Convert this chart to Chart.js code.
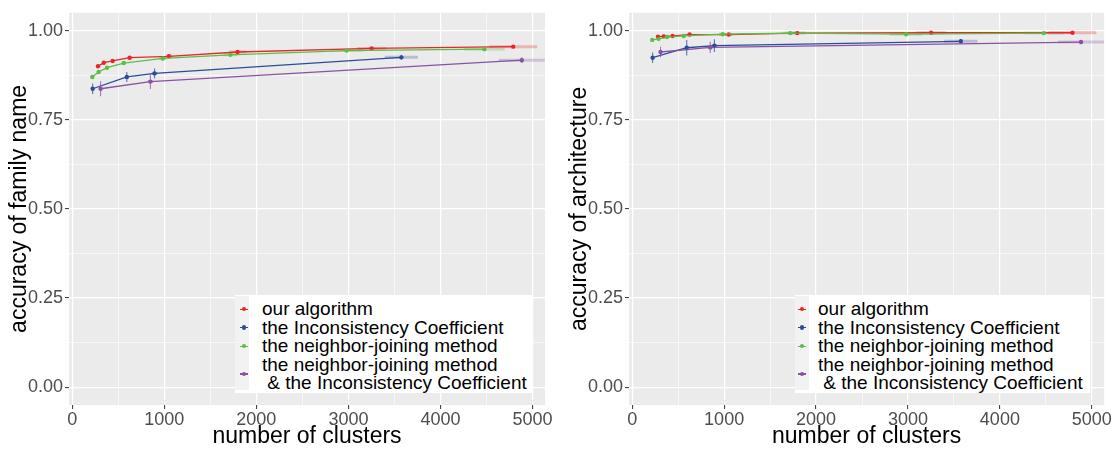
<!DOCTYPE html>
<html>
<head>
<meta charset="utf-8">
<script src="https://cdn.jsdelivr.net/npm/chart.js@4.4.1/dist/chart.umd.min.js"></script>
<style>
  body { margin: 0; background: #fff; font-family: 'Liberation Sans', Arial, sans-serif; }
  #wrap { position: relative; width: 1112px; height: 450px; overflow: hidden; }
  canvas { position: absolute; top: 0; }
  .legend { position: absolute; top: 295px; height: 98px; background: #fff; box-sizing: border-box; padding-top: 5px; }
  .keys { position: absolute; left: 0; top: 1px; bottom: 3px; width: 14px; background: #F2F2F2; }
  .entry { position: relative; display: flex; align-items: center; }
  .glyph { position: absolute; width: 8px; height: 1.4px; }
  .glyph i { position: absolute; left: 2px; top: -1.6px; width: 4.4px; height: 4.4px; border-radius: 50%; }
  .txt { position: absolute; font-size: 19px; line-height: 18.5px; color: #000; white-space: pre; }
</style>
</head>
<body>
<div id="wrap">
  <canvas id="left" width="556" height="450" style="left:0px"></canvas>
  <canvas id="right" width="556" height="450" style="left:556px"></canvas>
</div>
<script>
// legend / series
const seriesNames = ['our algorithm', 'the Inconsistency Coefficient', 'the neighbor-joining method',
  'the neighbor-joining method\n & the Inconsistency Coefficient'];
const seriesColors = ['#E8262B', '#2B4C9B', '#5BBF45', '#8A52A5'];

// number of clusters
const redX = [280, 343, 439, 624, 1050, 1796, 3252, 4790];
const blueX = [222, 593, 894, 3575];
const greenX = [218, 287, 378, 560, 984, 1718, 2980, 4477];
const purpleX = [308, 849, 4883];

// horizontal spread of cluster counts
const redXErr = [6, 8, 10, 20, 40, 90, 160, 260];
const blueXErr = [6, 20, 30, 180];
const greenXErr = [6, 8, 10, 20, 40, 80, 180, 220];
const purpleXErr = [8, 30, 250];

// accuracy of family name
const redFamily = [0.900, 0.910, 0.915, 0.924, 0.928, 0.940, 0.950, 0.955];
const blueFamily = [0.837, 0.870, 0.880, 0.925];
const greenFamily = [0.870, 0.884, 0.896, 0.909, 0.922, 0.932, 0.944, 0.948];
const purpleFamily = [0.837, 0.857, 0.917];
const redFamilyErr = [0.004, 0.004, 0.004, 0.004, 0.004, 0.003, 0.003, 0.003];
const blueFamilyErr = [0.015, 0.014, 0.014, 0.007];
const greenFamilyErr = [0.004, 0.004, 0.004, 0.004, 0.003, 0.003, 0.003, 0.003];
const purpleFamilyErr = [0.021, 0.021, 0.008];

// accuracy of architecture
const redArch = [0.983, 0.984, 0.985, 0.989, 0.989, 0.993, 0.994, 0.994];
const blueArch = [0.924, 0.952, 0.958, 0.970];
const greenArch = [0.974, 0.977, 0.982, 0.985, 0.990, 0.993, 0.990, 0.993];
const purpleArch = [0.940, 0.953, 0.968];
const redArchErr = [0.003, 0.003, 0.003, 0.003, 0.003, 0.003, 0.003, 0.003];
const blueArchErr = [0.015, 0.022, 0.018, 0.006];
const greenArchErr = [0.003, 0.003, 0.003, 0.003, 0.003, 0.003, 0.003, 0.003];
const purpleArchErr = [0.015, 0.016, 0.006];

// ticks
const xTicks = [0, 500, 1000, 1500, 2000, 2500, 3000, 3500, 4000, 4500, 5000];
const yTicks = [0, 0.125, 0.25, 0.375, 0.5, 0.625, 0.75, 0.875, 1];

const FONT = "'Liberation Sans', Arial, sans-serif";

function alpha(hex, a) {
  const n = parseInt(hex.slice(1), 16);
  return `rgba(${n >> 16},${(n >> 8) & 255},${n & 255},${a})`;
}

const isMajorX = v => v % 1000 === 0;
const isMajorY = v => Math.abs(v * 4 - Math.round(v * 4)) < 1e-9;

const panelBg = {
  id: 'panelBg',
  beforeDraw(chart) {
    const a = chart.chartArea;
    chart.ctx.save();
    chart.ctx.fillStyle = '#EBEBEB';
    chart.ctx.fillRect(a.left, a.top, a.right - a.left, a.bottom - a.top);
    chart.ctx.restore();
  }
};

const errorBars = {
  id: 'errorBars',
  beforeDatasetsDraw(chart) {
    // translucent horizontal spread bars
    const ctx = chart.ctx, a = chart.chartArea;
    const xs = chart.scales.x, ys = chart.scales.y;
    ctx.save();
    ctx.beginPath();
    ctx.rect(a.left, a.top, a.right - a.left, a.bottom - a.top);
    ctx.clip();
    chart.data.datasets.forEach(ds => {
      ctx.strokeStyle = alpha(ds.borderColor, 0.28);
      ctx.lineWidth = 3;
      ds.data.forEach((p, i) => {
        const y = ys.getPixelForValue(p.y);
        ctx.beginPath();
        ctx.moveTo(xs.getPixelForValue(p.x - ds.xErr[i]), y);
        ctx.lineTo(xs.getPixelForValue(p.x + ds.xErr[i]), y);
        ctx.stroke();
      });
    });
    ctx.restore();
  },
  afterDatasetsDraw(chart) {
    const ctx = chart.ctx;
    const xs = chart.scales.x, ys = chart.scales.y;
    ctx.save();
    chart.data.datasets.forEach(ds => {
      ctx.strokeStyle = alpha(ds.borderColor, 0.75);
      ctx.lineWidth = 1.1;
      ds.data.forEach((p, i) => {
        const x = xs.getPixelForValue(p.x);
        ctx.beginPath();
        ctx.moveTo(x, ys.getPixelForValue(p.y - ds.yErr[i]));
        ctx.lineTo(x, ys.getPixelForValue(p.y + ds.yErr[i]));
        ctx.stroke();
      });
    });
    ctx.restore();
  }
};

function makeDataset(i, xs, ys, xErr, yErr) {
  return {
    label: seriesNames[i],
    data: xs.map((x, k) => ({ x: x, y: ys[k] })),
    xErr: xErr,
    yErr: yErr,
    showLine: true,
    borderColor: seriesColors[i],
    backgroundColor: seriesColors[i],
    borderWidth: 1.3,
    pointRadius: 2.2,
    pointBorderWidth: 0,
    tension: 0,
    order: 4 - i
  };
}

function makeChart(id, yTitle, yWidth, padRight, series) {
  return new Chart(document.getElementById(id), {
    type: 'scatter',
    data: { datasets: series },
    plugins: [panelBg, errorBars],
    options: {
      responsive: false,
      animation: false,
      layout: { padding: { top: 9, right: padRight, left: 0, bottom: 0 } },
      plugins: { legend: { display: false }, tooltip: { enabled: false } },
      scales: {
        x: {
          type: 'linear',
          min: -35,
          max: 5135,
          afterBuildTicks: s => { s.ticks = xTicks.map(v => ({ value: v })); },
          afterFit: s => { s.height = 45; },
          ticks: {
            autoSkip: false,
            maxRotation: 0,
            padding: 0,
            color: '#4D4D4D',
            font: { family: FONT, size: 18 },
            callback: v => isMajorX(v) ? String(v) : ''
          },
          grid: {
            color: '#FFFFFF',
            lineWidth: c => (c.tick && isMajorX(c.tick.value)) ? 1.2 : 0.6,
            tickColor: c => (c.tick && isMajorX(c.tick.value)) ? '#333333' : 'rgba(0,0,0,0)',
            tickLength: 4,
            tickWidth: 1
          },
          border: { display: false },
          title: {
            display: true,
            text: 'number of clusters',
            color: '#000',
            font: { family: FONT, size: 23 },
            padding: { top: 0, bottom: 0 }
          }
        },
        y: {
          type: 'linear',
          min: -0.05,
          max: 1.05,
          afterBuildTicks: s => { s.ticks = yTicks.map(v => ({ value: v })); },
          afterFit: s => { s.width = yWidth; },
          ticks: {
            autoSkip: false,
            padding: 2,
            color: '#4D4D4D',
            font: { family: FONT, size: 18 },
            callback: v => isMajorY(v) ? v.toFixed(2) : ''
          },
          grid: {
            color: '#FFFFFF',
            lineWidth: c => (c.tick && isMajorY(c.tick.value)) ? 1.2 : 0.6,
            tickColor: c => (c.tick && isMajorY(c.tick.value)) ? '#333333' : 'rgba(0,0,0,0)',
            tickLength: 4,
            tickWidth: 1
          },
          border: { display: false },
          title: {
            display: true,
            text: yTitle,
            color: '#000',
            font: { family: FONT, size: 23 },
            padding: { top: yWidth - 63, bottom: 0 }
          }
        }
      }
    }
  });
}

function addLegend(left, width, keyX, textX) {
  const box = document.createElement('div');
  box.className = 'legend';
  box.style.left = left + 'px';
  box.style.width = width + 'px';
  box.innerHTML = '<div class="keys"></div>';
  seriesNames.forEach((name, i) => {
    const lines = name.split('\n');
    const h = lines.length * 18.5;
    const e = document.createElement('div');
    e.className = 'entry';
    e.style.height = h + 'px';
    e.innerHTML =
      `<div class="glyph" style="left:${keyX - 4}px;top:${h / 2 - 0.7}px;background:${seriesColors[i]}">` +
      `<i style="background:${seriesColors[i]}"></i></div>` +
      `<div class="txt" style="left:${textX}px;top:0">${lines.join('\n')}</div>`;
    box.appendChild(e);
  });
  document.getElementById('wrap').appendChild(box);
}

makeChart('left', 'accuracy of family name', 69, 11, [
  makeDataset(0, redX, redFamily, redXErr, redFamilyErr),
  makeDataset(1, blueX, blueFamily, blueXErr, blueFamilyErr),
  makeDataset(2, greenX, greenFamily, greenXErr, greenFamilyErr),
  makeDataset(3, purpleX, purpleFamily, purpleXErr, purpleFamilyErr)
]);

makeChart('right', 'accuracy of architecture', 73, 7, [
  makeDataset(0, redX, redArch, redXErr, redArchErr),
  makeDataset(1, blueX, blueArch, blueXErr, blueArchErr),
  makeDataset(2, greenX, greenArch, greenXErr, greenArchErr),
  makeDataset(3, purpleX, purpleArch, purpleXErr, purpleArchErr)
]);

addLegend(235, 297, 9, 27);
addLegend(795, 295, 7, 23);
</script>
</body>
</html>
